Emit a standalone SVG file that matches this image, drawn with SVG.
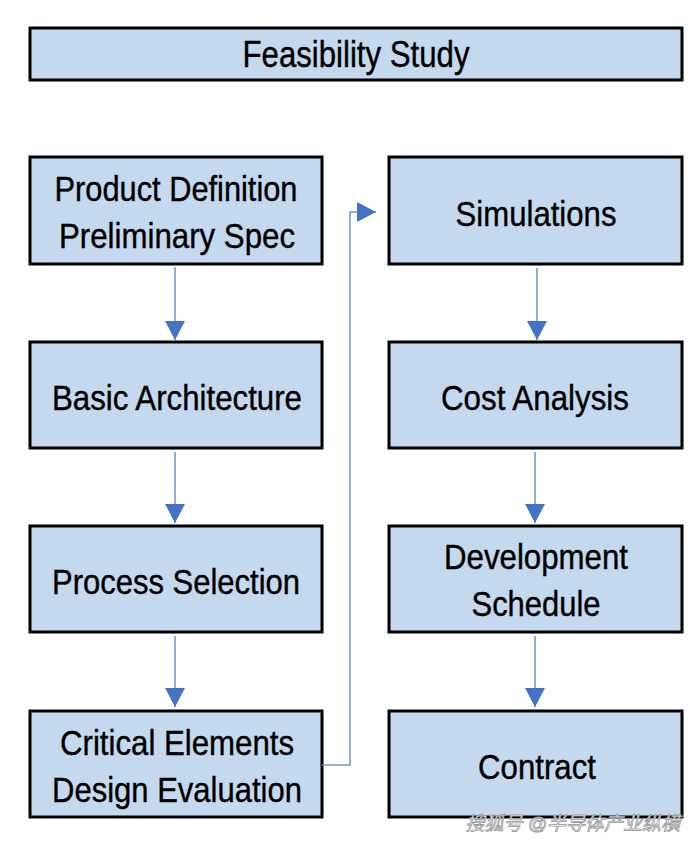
<svg xmlns="http://www.w3.org/2000/svg" width="690" height="844" viewBox="0 0 690 844">
<style>
.box{fill:#c5d9ee;stroke:#000;stroke-width:3}
.t{font-family:"Liberation Sans",Arial,sans-serif;font-size:35px;fill:#000;stroke:#000;stroke-width:0.4;text-anchor:middle}
.c{stroke:#7b96cc;stroke-width:1.6;fill:none}
.wm{font-family:"Liberation Sans","Noto Sans CJK SC",sans-serif;font-size:19px;fill:#fff;stroke:#999;stroke-width:0.8;text-anchor:end;font-style:italic}
</style>
<defs>
<marker id="ah" markerWidth="20" markerHeight="20" viewBox="0 0 20 20" refX="19" refY="10" orient="auto" markerUnits="userSpaceOnUse">
<path d="M0,0 L19,10 L0,20 Z" fill="#4472c4"/>
</marker>
</defs>
<g id="feasibility"><rect class="box" x="30" y="28" width="652" height="52"/><text class="t" x="356" y="67" style="font-size:37px" textLength="227" lengthAdjust="spacingAndGlyphs">Feasibility Study</text></g>
<g id="product"><rect class="box" x="30" y="157" width="292" height="107"/><text class="t" x="176" y="201" textLength="243" lengthAdjust="spacingAndGlyphs">Product Definition</text><text class="t" x="177" y="248" textLength="236" lengthAdjust="spacingAndGlyphs">Preliminary Spec</text></g>
<g id="basic"><rect class="box" x="30" y="342" width="292" height="106"/><text class="t" x="177" y="410" textLength="250" lengthAdjust="spacingAndGlyphs">Basic Architecture</text></g>
<g id="process"><rect class="box" x="30" y="526" width="292" height="106"/><text class="t" x="176" y="594" textLength="248" lengthAdjust="spacingAndGlyphs">Process Selection</text></g>
<g id="critical"><rect class="box" x="30" y="711" width="292" height="106"/><text class="t" x="177" y="755" textLength="234" lengthAdjust="spacingAndGlyphs">Critical Elements</text><text class="t" x="177" y="802" textLength="250" lengthAdjust="spacingAndGlyphs">Design Evaluation</text></g>
<g id="simulations"><rect class="box" x="389" y="157" width="293" height="107"/><text class="t" x="536" y="226" textLength="161" lengthAdjust="spacingAndGlyphs">Simulations</text></g>
<g id="cost"><rect class="box" x="389" y="342" width="293" height="106"/><text class="t" x="535" y="410" textLength="188" lengthAdjust="spacingAndGlyphs">Cost Analysis</text></g>
<g id="development"><rect class="box" x="389" y="526" width="293" height="106"/><text class="t" x="536" y="569" textLength="184" lengthAdjust="spacingAndGlyphs">Development</text><text class="t" x="536" y="616" textLength="129" lengthAdjust="spacingAndGlyphs">Schedule</text></g>
<g id="contract"><rect class="box" x="389" y="711" width="293" height="106"/><text class="t" x="537" y="779" textLength="118" lengthAdjust="spacingAndGlyphs">Contract</text></g>
<g id="connectors">
<line class="c" x1="175" y1="267" x2="175" y2="340" marker-end="url(#ah)"/>
<line class="c" x1="175" y1="452" x2="175" y2="523" marker-end="url(#ah)"/>
<line class="c" x1="175" y1="636" x2="175" y2="707" marker-end="url(#ah)"/>
<line class="c" x1="537" y1="268" x2="537" y2="340" marker-end="url(#ah)"/>
<line class="c" x1="535" y1="452" x2="535" y2="523" marker-end="url(#ah)"/>
<line class="c" x1="535" y1="636" x2="535" y2="707" marker-end="url(#ah)"/>
<polyline class="c" points="322,765 350,765 350,212 376,212" marker-end="url(#ah)"/>
</g>
<text class="wm" x="680" y="830">搜狐号 @半导体产业纵横</text>
</svg>
